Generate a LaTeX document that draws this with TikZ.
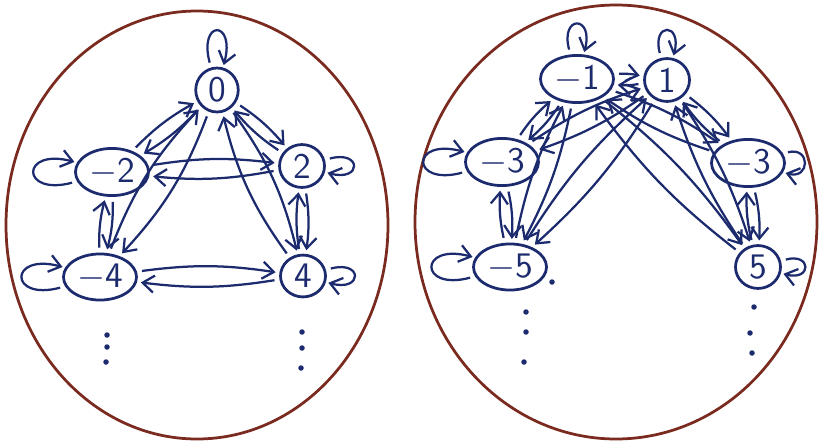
\documentclass[tikz,border=0pt]{standalone}
\usepackage{tikz}
\usetikzlibrary{arrows.meta,shapes.geometric}
\definecolor{cInk}{HTML}{1C2A6E}
\definecolor{cRim}{HTML}{7A2A1E}

\begin{document}
\begin{tikzpicture}[x=0.4pt, y=-0.4pt,
  font=\sffamily\Large,
  >={Straight Barb[length=1.6mm,width=2.4mm]},
  st/.style={ellipse, draw=cInk, line width=1.1pt, text=cInk, inner sep=1.2pt,
             minimum width=18pt, minimum height=14pt},
  ed/.style={->, draw=cInk, line width=0.9pt, bend left=8,
             shorten >=1.5pt, shorten <=2pt},
  lp/.style={->, draw=cInk, line width=0.9pt, min distance=6mm,
             shorten >=1pt, shorten <=2pt},
  rim/.style={draw=cRim, line width=1.1pt},
  dot/.style={circle, fill=cInk, inner sep=0pt, minimum size=2.2pt}]
\useasboundingbox (0,0) rectangle (820,446);

% ================= left: even states =================
\draw[rim] (197,225) ellipse [x radius=191, y radius=214];
\node[st, minimum width=17pt, minimum height=15pt] (z) at (217,90) {0};
\node[st] (m2) at (112,172) {$-$2};
\node[st] (p2) at (302,166) {2};
\node[st, minimum width=20pt] (m4) at (100,277) {$-$4};
\node[st] (p4) at (303,276) {4};

\path (z) edge[lp, loop above, min distance=7mm] (z);
\path (m2) edge[lp, loop left] (m2);
\path (p2) edge[lp, loop right] (p2);
\path (m4) edge[lp, loop left] (m4);
\path (p4) edge[lp, loop right] (p4);

\draw[ed] (z) to (m2); \draw[ed] (m2) to (z);
\draw[ed] (z) to (p2); \draw[ed] (p2) to (z);
\draw[ed] (m2) to (p2); \draw[ed] (p2) to (m2);
\draw[ed] (m2) to (m4); \draw[ed] (m4) to (m2);
\draw[ed] (p2) to (p4); \draw[ed] (p4) to (p2);
\draw[ed] (m4) to (p4); \draw[ed] (p4) to (m4);
\draw[ed, bend left=11] (z) to (m4); \draw[ed, bend left=11] (m4) to (z);
\draw[ed, bend left=11] (z) to (p4); \draw[ed, bend left=11] (p4) to (z);

\node[dot] (ld1) at (107,335) {}; \node[dot] (ld2) at (107,347) {};
\node[dot] (ld3) at (106,362) {};
\node[dot] (rd1) at (302,332) {}; \node[dot] (rd2) at (302,348) {};
\node[dot] (rd3) at (301,368) {};

% ================= right: odd states =================
\draw[rim] (616,222) ellipse [x radius=201, y radius=217];
\node[st, minimum width=21pt] (m1) at (577,79) {$-$1};
\node[st] (p1) at (667,80) {1};
\node[st, minimum width=20pt] (m3) at (502,162) {$-$3};
\node[st, minimum width=20pt] (p3) at (748,163) {$-$3};
\node[st, minimum width=22pt] (m5) at (510,267) {$-$5};
\node[st] (p5) at (758,267) {5};

\path (m1) edge[lp, loop above] (m1);
\path (p1) edge[lp, loop above] (p1);
\path (m3) edge[lp, loop left] (m3);
\path (p3) edge[lp, loop right, min distance=4mm] (p3);
\path (m5) edge[lp, loop left] (m5);
\path (p5) edge[lp, loop right, min distance=4.5mm] (p5);

\draw[ed] (m1) to (p1); \draw[ed] (p1) to (m1);
\draw[ed] (m1) to (m3); \draw[ed] (m3) to (m1);
\draw[ed] (m1) to (p3); \draw[ed] (p3) to (m1);
\draw[ed] (m1) to (m5); \draw[ed] (m5) to (m1);
\draw[ed] (m1) to (p5); \draw[ed] (p5) to (m1);
\draw[ed] (p1) to (m3); \draw[ed] (m3) to (p1);
\draw[ed] (p1) to (p3); \draw[ed] (p3) to (p1);
\draw[ed] (p1) to (m5); \draw[ed] (m5) to (p1);
\draw[ed] (p1) to (p5); \draw[ed] (p5) to (p1);
\draw[ed] (m3) to (m5); \draw[ed] (m5) to (m3);
\draw[ed] (p3) to (p5); \draw[ed] (p5) to (p3);

\node[dot] (od0) at (552,282) {};
\node[dot] (od1) at (526,312) {}; \node[dot] (od2) at (526,332) {};
\node[dot] (od3) at (524,362) {};
\node[dot] (pd1) at (754,307) {}; \node[dot] (pd2) at (750,333) {};
\node[dot] (pd3) at (752,353) {};
\end{tikzpicture}
\end{document}
